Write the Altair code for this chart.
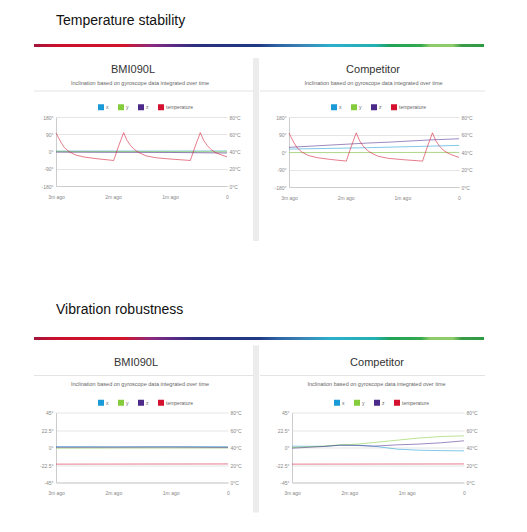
import altair as alt
import pandas as pd

SERIES = ["x", "y", "z", "temperature"]
COLORS = ["#1a9ad6", "#84cc3c", "#4b2a8a", "#d4112e"]
SUBTITLE = "Inclination based on gyroscope data integrated over time"

# ---- Temperature stability: temperature profile (seconds before now, °C)
temp_time = [-180, -174.7, -171.2, -166, -159, -150, -136, -119.3, -114.4, -108.8,
             -105.3, -101.8, -97.5, -92.3, -85.3, -74.7, -58.9, -38.6, -33.7, -28.1,
             -24.6, -21.1, -16.8, -11.6, -6.3, 0]
temp_values = [61.5, 50.4, 44.6, 39.6, 35.8, 33.5, 31.5, 29.6, 45.4, 61.9,
               53, 47.3, 42.3, 38.5, 35, 32.7, 31.2, 29.6, 45.4, 61.9,
               53, 47.3, 42.3, 38.5, 36.2, 33.8]

# BMI090L, temperature stability (degrees)
tl_time = [-180, -120, -60, 0]
tl_x = [2, 2.5, 2.5, 3]
tl_y = [0.5, 0, 0, -1]
tl_z = [-3, -4, -5, -8]

# Competitor, temperature stability (degrees)
tr_time = [-180, -97, -73, -31, 0]
tr_x = [15, 22, 25, 30, 34]
tr_y = [-3, -3, -2.5, -2, -2]
tr_z = [24, 46, 51, 62, 68]

# ---- Vibration robustness
vib_temp_time = [-180, 0]
vib_temp_values = [21, 21.2]

bl_time = [-180, -120, -60, 0]
bl_x = [1.2, 0.8, 1.0, 1.0]
bl_y = [-0.8, -0.6, -0.5, -0.5]
bl_z = [0.3, 0.5, 0.6, 0.2]

br_time = [-180, -146.8, -129.3, -111.8, -94.4, -69.9, -48.9, -24.5, 0]
br_x = [1.7, 1.5, 3.0, 3.0, 1.7, -2.1, -3.4, -4.0, -4.3]
br_y = [0, 1.7, 3.4, 4.3, 6.4, 9.4, 12, 14.1, 15]
br_z = [-0.9, 1.3, 3.0, 2.6, 1.7, 3.4, 4.3, 6.0, 8.6]

FONT = "Liberation Sans"
ONE = pd.DataFrame({"k": [0]})


def angle_frame(t, xs, ys, zs):
    rows = []
    for name, vals in (("x", xs), ("y", ys), ("z", zs)):
        for ti, v in zip(t, vals):
            rows.append({"t": ti, "v": v, "series": name})
    return pd.DataFrame(rows)


def temp_frame(t, vals):
    return pd.DataFrame({"t": t, "v": vals, "series": "temperature"})


def card(title, x0, x1, top, title_pos, sub_pos, rule_y, strip_bottom=None):
    """Card decorations: gap strip, separator line, panel title and subtitle."""
    layers = []
    if strip_bottom is not None:
        layers.append(alt.Chart(ONE).mark_rect(color="#ececec").encode(
            x=alt.value(x1), x2=alt.value(x1 + 6), y=alt.value(top), y2=alt.value(strip_bottom)))
    layers.append(alt.Chart(ONE).mark_rule(color="#e4e4e4", strokeWidth=1).encode(
        x=alt.value(x0), x2=alt.value(x1), y=alt.value(rule_y)))
    layers.append(alt.Chart(ONE).mark_text(
        text=title, fontSize=11, font=FONT, color="#333333", align="center", baseline="middle"
    ).encode(x=alt.value(title_pos[0]), y=alt.value(title_pos[1])))
    layers.append(alt.Chart(ONE).mark_text(
        text=SUBTITLE, fontSize=5.5, font=FONT, color="#666666", align="center", baseline="middle"
    ).encode(x=alt.value(sub_pos[0]), y=alt.value(sub_pos[1])))
    return layers


def panel(adf, tdf, ydom, yticks, width, height, decor):
    xenc = alt.X("t:Q", scale=alt.Scale(domain=[-180, 0], nice=False, zero=False),
                 axis=alt.Axis(values=[-180, -120, -60, 0],
                               labelExpr="datum.value == 0 ? '0' : (-datum.value/60) + 'm ago'",
                               title=None, grid=False, ticks=False, tickSize=0,
                               domainColor="#cccccc", labelFontSize=5, labelColor="#888888",
                               labelPadding=8, labelFlush=False, labelFont=FONT))
    color = alt.Color("series:N", scale=alt.Scale(domain=SERIES, range=COLORS),
                      legend=alt.Legend(title=None, orient="none", legendX=42, legendY=-13,
                                        direction="horizontal", symbolType="square",
                                        symbolSize=9, symbolStrokeWidth=3, symbolOpacity=1,
                                        labelFontSize=5, labelColor="#666666", labelFont=FONT,
                                        labelOffset=2, columnPadding=4))
    angles = alt.Chart(adf).mark_line(strokeWidth=1, strokeOpacity=0.55).encode(
        x=xenc,
        y=alt.Y("v:Q", scale=alt.Scale(domain=ydom, nice=False, zero=False),
                axis=alt.Axis(values=yticks, labelExpr="datum.value + '°'", title=None,
                              ticks=False, tickSize=0, gridColor="#dedede", gridWidth=0.8,
                              domainColor="#cccccc", labelFontSize=5, labelColor="#888888",
                              labelPadding=3, labelFont=FONT)),
        color=color,
    )
    temp = alt.Chart(tdf).mark_line(strokeWidth=1, strokeOpacity=0.55).encode(
        x=xenc,
        y=alt.Y("v:Q", scale=alt.Scale(domain=[0, 80], nice=False),
                axis=alt.Axis(orient="right", values=[0, 20, 40, 60, 80],
                              labelExpr="datum.value + '°C'", title=None, ticks=False,
                              tickSize=0, grid=False, domain=False, labelFontSize=5,
                              labelColor="#888888", labelPadding=2, labelFont=FONT)),
        color=color,
    )
    return alt.layer(*decor, angles, temp).resolve_scale(y="independent").properties(
        width=width, height=height)


GRADIENT = alt.LinearGradient(
    gradient="linear", x1=0, x2=1, y1=0, y2=0,
    stops=[
        alt.GradientStop(color="#a0163a", offset=0),
        alt.GradientStop(color="#c8102e", offset=0.045),
        alt.GradientStop(color="#d0142c", offset=0.2),
        alt.GradientStop(color="#8c2a7e", offset=0.26),
        alt.GradientStop(color="#5a2a86", offset=0.31),
        alt.GradientStop(color="#2b2f7e", offset=0.36),
        alt.GradientStop(color="#1f3a84", offset=0.5),
        alt.GradientStop(color="#2e62a3", offset=0.54),
        alt.GradientStop(color="#3a86b8", offset=0.6),
        alt.GradientStop(color="#2bb0cc", offset=0.66),
        alt.GradientStop(color="#22b0b0", offset=0.76),
        alt.GradientStop(color="#1fa25a", offset=0.79),
        alt.GradientStop(color="#36a94f", offset=0.86),
        alt.GradientStop(color="#8fcb69", offset=0.88),
        alt.GradientStop(color="#8fcb69", offset=0.93),
        alt.GradientStop(color="#3a9c48", offset=0.95),
        alt.GradientStop(color="#2e9a44", offset=1),
    ],
)


def header(text, offset):
    return alt.Chart(ONE).mark_rect(fill=GRADIENT).encode(
        x=alt.value(-22), x2=alt.value(428), y=alt.value(0), y2=alt.value(3)
    ).properties(
        width=428, height=3,
        title=alt.TitleParams(text, anchor="start", dx=22, fontSize=14, fontWeight="normal",
                              font=FONT, color="#111111", offset=offset),
    )


tl = panel(angle_frame(tl_time, tl_x, tl_y, tl_z), temp_frame(temp_time, temp_values),
           [-180, 180], [-180, -90, 0, 90, 180], 171, 69,
           card("BMI090L", -22, 197, -59, (77, -47), (84, -34), -26, strip_bottom=124))
tr = panel(angle_frame(tr_time, tr_x, tr_y, tr_z), temp_frame(temp_time, temp_values),
           [-180, 180], [-180, -90, 0, 90, 180], 170, 70,
           card("Competitor", -29, 196, -59, (84, -47), (84.5, -34), -26))
bl = panel(angle_frame(bl_time, bl_x, bl_y, bl_z), temp_frame(vib_temp_time, vib_temp_values),
           [-45, 45], [-45, -22.5, 0, 22.5, 45], 172, 70,
           card("BMI090L", -22, 197, -67, (80, -49.5), (84, -28.7), -37, strip_bottom=100))
br = panel(angle_frame(br_time, br_x, br_y, br_z), temp_frame(vib_temp_time, vib_temp_values),
           [-45, 45], [-45, -22.5, 0, 22.5, 45], 172, 70,
           card("Competitor", -32, 193, -67, (85, -49.5), (84.5, -28.7), -37))

row1 = alt.hconcat(tl, tr, spacing=0).resolve_scale(color="independent").resolve_legend(color="independent")
row2 = alt.hconcat(bl, br, spacing=0).resolve_scale(color="independent").resolve_legend(color="independent")

top = alt.vconcat(header("Temperature stability", 16), row1, spacing=11)
bottom = alt.vconcat(header("Vibration robustness", 20.5), row2, spacing=5.5)

chart = alt.vconcat(top, bottom, spacing=61).properties(
    padding={"left": 25, "top": 6, "right": 5, "bottom": 5},
    background="#ffffff",
).configure_view(stroke=None)

chart.save("out.html", embed_options={"renderer": "svg", "actions": False})
